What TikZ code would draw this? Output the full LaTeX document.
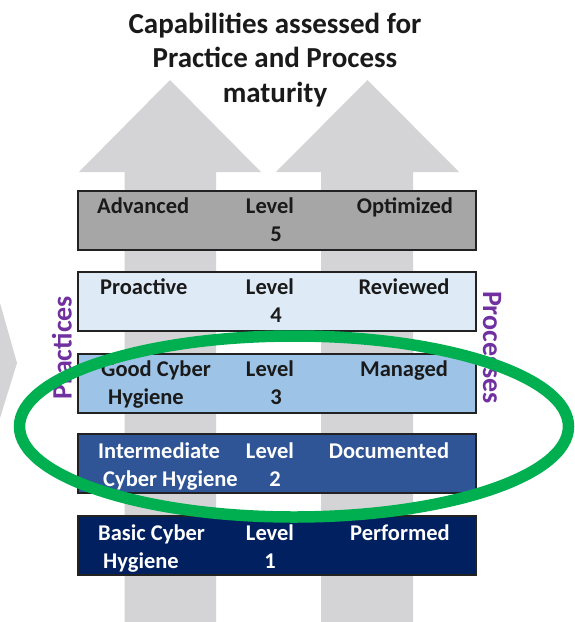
\documentclass[tikz,border=0pt]{standalone}
\usepackage{fontspec}
\setmainfont{Carlito}
\definecolor{arrowgrey}{HTML}{D4D4D6}
\definecolor{boxline}{HTML}{222222}
\definecolor{lvfive}{HTML}{A6A6A6}
\definecolor{lvfour}{HTML}{DEEBF7}
\definecolor{lvthree}{HTML}{9DC3E6}
\definecolor{lvtwo}{HTML}{2F5597}
\definecolor{lvone}{HTML}{002060}
\definecolor{sidepurple}{HTML}{7030A0}
\definecolor{ringgreen}{HTML}{00B050}
\definecolor{darktext}{HTML}{1A1A1A}
\begin{document}
\begin{tikzpicture}[x=1pt,y=-1pt,
    levelbox/.style={draw=boxline,line width=2pt,minimum width=398pt,
      minimum height=59pt,inner sep=0pt,anchor=north west},
    boxtext/.style={font=\bfseries\fontsize{22.5}{28}\selectfont,
      inner sep=0pt,align=left,anchor=base west},
    leveltext/.style={font=\bfseries\fontsize{22.5}{28}\selectfont,
      inner sep=0pt,align=center,anchor=base},
    sidetext/.style={font=\bfseries\fontsize{28}{32}\selectfont,
      text=sidepurple,inner sep=0pt}]
  \useasboundingbox (0,0) rectangle (574,622);
  \fill[white] (0,0) rectangle (574,622);
  % grey arrows behind the levels
  \fill[arrowgrey] (124.5,622) -- (124.5,172) -- (79,172) -- (170,80)
    -- (261,172) -- (216,172) -- (216,622) -- cycle;
  \fill[arrowgrey] (321,622) -- (321,172) -- (276,172) -- (367.5,80)
    -- (459,172) -- (413,172) -- (413,622) -- cycle;
  \fill[arrowgrey] (0,303) -- (17,363) -- (0,418) -- cycle;
  % title (base = last line)
  \node (title) [font=\bfseries\fontsize{29}{34.5}\selectfont,
    text=darktext,align=center,anchor=base,inner sep=0pt] at (275,102)
    {Capabilities assessed for\\Practice and Process\\maturity};
  % levels
  \node (lv5) [levelbox,fill=lvfive] at (77,190) {};
  \node (lv4) [levelbox,fill=lvfour] at (77,271) {};
  \node (lv3) [levelbox,fill=lvthree] at (77,353) {};
  \node (lv2) [levelbox,fill=lvtwo] at (77,433) {};
  \node (lv1) [levelbox,fill=lvone] at (77,515) {};
  \begin{scope}[text=darktext]
    \node (lv5-name) [boxtext] at (97,213) {Advanced};
    \node (lv5-level) [leveltext] at (270,241) {Level\\\hspace*{12pt}5};
    \node (lv5-proc) [leveltext] at (405,213) {Optimized};
    \node (lv4-name) [boxtext] at (100,294) {Proactive};
    \node (lv4-level) [leveltext] at (270,322) {Level\\\hspace*{12pt}4};
    \node (lv4-proc) [leveltext] at (404,294) {Reviewed};
    \node (lv3-name) [boxtext] at (101,404) {Good Cyber\\\hspace*{7pt}Hygiene};
    \node (lv3-level) [leveltext] at (270,404) {Level\\\hspace*{12pt}3};
    \node (lv3-proc) [leveltext] at (404,376) {Managed};
  \end{scope}
  \begin{scope}[text=white]
    \node (lv2-name) [boxtext] at (98,486) {Intermediate\\\hspace*{5pt}Cyber Hygiene};
    \node (lv2-level) [leveltext] at (270,486) {Level\\\hspace*{10pt}2};
    \node (lv2-proc) [leveltext] at (389,458) {Documented};
    \node (lv1-name) [boxtext] at (98,568) {Basic Cyber\\\hspace*{5pt}Hygiene};
    \node (lv1-level) [leveltext] at (270,568) {Level\\1};
    \node (lv1-proc) [leveltext] at (400,540) {Performed};
  \end{scope}
  % side labels
  \node (practices) [sidetext,rotate=90] at (62,347.5) {Practices};
  \node (processes) [sidetext,rotate=-90] at (492,347.5) {Processes};
  % highlight ring
  \draw[ringgreen,line width=11.5pt] (294,426.5) ellipse [x radius=274.5pt,y radius=90.5pt];
\end{tikzpicture}
\end{document}
